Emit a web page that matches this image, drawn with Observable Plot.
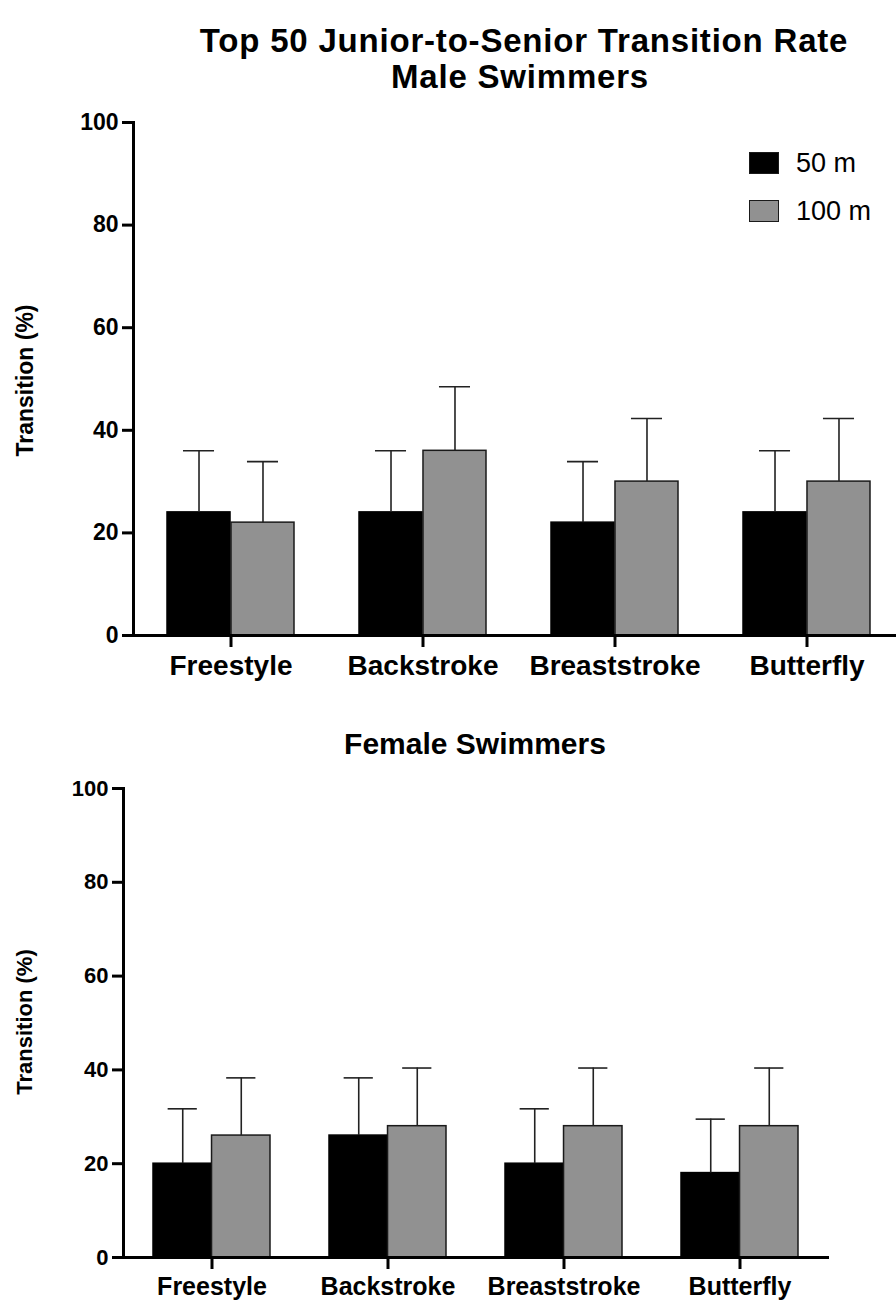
<!DOCTYPE html>
<html>
<head>
<meta charset="utf-8">
<script src="https://cdn.jsdelivr.net/npm/d3@7"></script>
<script src="https://cdn.jsdelivr.net/npm/@observablehq/plot@0.6"></script>
<style>
  body { margin: 0; background: #fff; }
  #page { position: relative; width: 896px; height: 1304px; background: #fff; overflow: hidden;
          font-family: "Liberation Sans", Arial, Helvetica, sans-serif; color: #000; }
  .abs { position: absolute; white-space: nowrap; line-height: 1; z-index: 2; }
  .title { font-weight: bold; text-align: center; }
  .ylab { font-weight: bold; text-align: center; transform: rotate(-90deg); transform-origin: 50% 50%; }
  .sw { position: absolute; box-sizing: border-box; z-index: 2; }
  .lt { position: absolute; font-size: 27px; line-height: 1; white-space: nowrap; z-index: 2; }
</style>
</head>
<body>
<div id="page">
  <div id="male" style="position:absolute;left:0;top:100px;z-index:1"></div>
  <div id="female" style="position:absolute;left:0;top:770px;z-index:1"></div>
  <div class="abs title" style="left:124px;width:800px;top:24px;font-size:33px;letter-spacing:0.8px">Top 50 Junior-to-Senior Transition Rate</div>
  <div class="abs title" style="left:120px;width:800px;top:60px;font-size:33px;letter-spacing:0.8px">Male Swimmers</div>
  <div class="abs title" style="left:75px;width:800px;top:729px;font-size:30px">Female Swimmers</div>
  <div class="abs ylab" style="left:-75px;width:200px;top:369px;font-size:23px">Transition (%)</div>
  <div class="abs ylab" style="left:-75px;width:200px;top:1011px;font-size:22px">Transition (%)</div>
  <div id="legend"></div>
</div>
<script>
// ---- data ----
const strokes = ["Freestyle", "Backstroke", "Breaststroke", "Butterfly"];
const seriesNames = ["50 m", "100 m"];
const seriesFill = ["#000000", "#919191"];
const yTicks = [0, 20, 40, 60, 80, 100];

const maleMean50 = [24, 24, 22, 24];
const maleSd50 = [12, 12, 11.9, 12];
const maleMean100 = [22, 36, 30, 30];
const maleSd100 = [11.9, 12.5, 12.3, 12.3];

const femaleMean50 = [20, 26, 20, 18];
const femaleSd50 = [11.7, 12.3, 11.7, 11.5];
const femaleMean100 = [26, 28, 28, 28];
const femaleSd100 = [12.3, 12.4, 12.4, 12.4];

function panel(o) {
  const rows50 = strokes.map((k, i) => ({stroke: k, value: o.m50[i], hi: o.m50[i] + o.s50[i]}));
  const rows100 = strokes.map((k, i) => ({stroke: k, value: o.m100[i], hi: o.m100[i] + o.s100[i]}));
  const bw = d3.scaleBand().domain(strokes).range(o.range)
    .paddingInner(o.pInner).paddingOuter(o.pOuter).align(0.5).bandwidth();
  const errStyle = {stroke: "#222", strokeWidth: 1.6};
  return Plot.plot({
    width: o.width, height: o.height,
    marginTop: o.marginTop, marginBottom: o.marginBottom,
    marginLeft: o.marginLeft, marginRight: o.marginRight,
    x: {type: "band", domain: strokes, range: o.range, paddingInner: o.pInner, paddingOuter: o.pOuter, align: 0.5, label: null},
    y: {domain: [0, 100], label: null},
    style: {fontFamily: "'Liberation Sans', Arial, sans-serif", fontWeight: "bold", color: "#000", background: "#fff", overflow: "visible"},
    marks: [
      Plot.barY(rows50, {x: "stroke", y: "value", fill: seriesFill[0], stroke: "#000", strokeWidth: 1.5, insetLeft: 0, insetRight: bw / 2}),
      Plot.barY(rows100, {x: "stroke", y: "value", fill: seriesFill[1], stroke: "#1a1a1a", strokeWidth: 1.5, insetLeft: bw / 2, insetRight: 0}),
      Plot.ruleX(rows50, {x: "stroke", y1: "value", y2: "hi", dx: -bw / 4, ...errStyle}),
      Plot.ruleX(rows100, {x: "stroke", y1: "value", y2: "hi", dx: bw / 4, ...errStyle}),
      Plot.tickY(rows50, {x: "stroke", y: "hi", insetLeft: bw / 8, insetRight: 5 * bw / 8, ...errStyle}),
      Plot.tickY(rows100, {x: "stroke", y: "hi", insetLeft: 5 * bw / 8, insetRight: bw / 8, ...errStyle}),
      Plot.ruleY([0], {strokeWidth: 3}),
      Plot.frame({anchor: "left", strokeWidth: 3}),
      Plot.axisY({ticks: yTicks, tickSize: 11, tickPadding: 4, strokeWidth: 3, fontSize: o.yFont, label: null}),
      Plot.axisX({tickSize: 12, tickPadding: o.xPad, strokeWidth: 3, fontSize: o.xFont, label: null})
    ]
  });
}

document.getElementById("male").appendChild(panel({
  m50: maleMean50, s50: maleSd50, m100: maleMean100, s100: maleSd100,
  width: 896, height: 600, marginTop: 22, marginBottom: 65, marginLeft: 133, marginRight: 0,
  range: [133, 904], pInner: 0.337, pOuter: 0.166, yFont: 23, xFont: 28, xPad: 8
}));

document.getElementById("female").appendChild(panel({
  m50: femaleMean50, s50: femaleSd50, m100: femaleMean100, s100: femaleSd100,
  width: 896, height: 534, marginTop: 18, marginBottom: 47, marginLeft: 123, marginRight: 67,
  range: [123, 828], pInner: 0.335, pOuter: 0.17, yFont: 22, xFont: 25, xPad: 8
}));

// legend (inside the male panel, upper right)
const leg = document.getElementById("legend");
const legTop = [152, 200];
seriesNames.forEach((name, i) => {
  const sw = document.createElement("div");
  sw.className = "sw";
  Object.assign(sw.style, {left: "749px", top: legTop[i] + "px", width: "30px", height: "22px",
    background: seriesFill[i], border: "1.5px solid #1a1a1a"});
  leg.appendChild(sw);
  const t = document.createElement("div");
  t.className = "lt";
  t.textContent = name;
  Object.assign(t.style, {left: "796px", top: (legTop[i] - 2) + "px"});
  leg.appendChild(t);
});
</script>
</body>
</html>
